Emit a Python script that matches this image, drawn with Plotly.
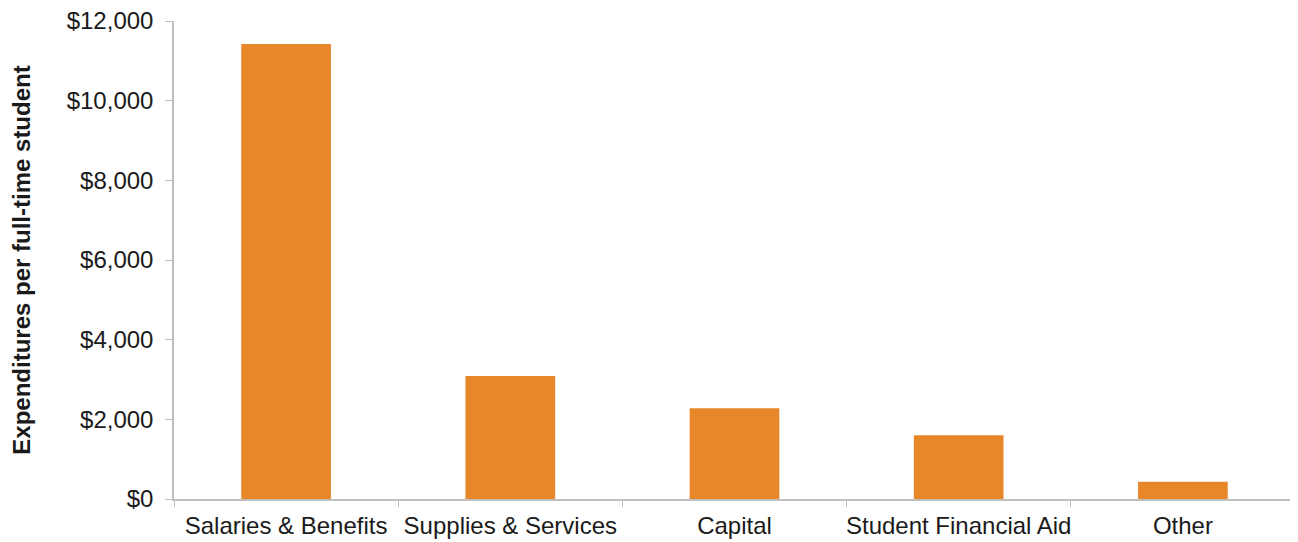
import plotly.graph_objects as go

categories = ["Salaries & Benefits", "Supplies & Services", "Capital", "Student Financial Aid", "Other"]
values = [11420, 3090, 2280, 1600, 430]
y_tick_vals = [0, 2000, 4000, 6000, 8000, 10000, 12000]
y_tick_text = ["$0", "$2,000", "$4,000", "$6,000", "$8,000", "$10,000", "$12,000"]

fig = go.Figure(go.Bar(x=categories, y=values, marker=dict(color="#E8862A", line=dict(width=0)), width=0.4))

# page body has an 8px default margin, so the figure is sized/offset to compensate
fig.update_layout(
    width=1290, height=534,
    margin=dict(l=166, r=3, t=13, b=43),
    plot_bgcolor="white", paper_bgcolor="white",
    font=dict(family="Liberation Sans, Arial, sans-serif", size=24, color="#1a1a1a"),
    showlegend=False,
)
fig.update_xaxes(
    automargin=False, tickangle=0,
    showline=True, linecolor="#BFBFBF", linewidth=1.5,
    ticks="outside", tickson="boundaries", ticklen=6, tickcolor="#BFBFBF",
    showgrid=False, tickfont=dict(size=24), ticklabelstandoff=4,
    ticklabeloverflow="allow",
)
fig.update_yaxes(
    automargin=False,
    range=[0, 12000], tickvals=y_tick_vals, ticktext=y_tick_text,
    showline=True, linecolor="#BFBFBF", linewidth=1.5,
    ticks="outside", ticklen=7, tickcolor="#BFBFBF",
    showgrid=False, zeroline=False, tickfont=dict(size=24),
    ticklabeloverflow="allow", ticklabelstandoff=7,
    title=dict(text="<b>Expenditures per full-time student</b>", font=dict(size=24), standoff=32),
)

fig.write_html("out.html")
